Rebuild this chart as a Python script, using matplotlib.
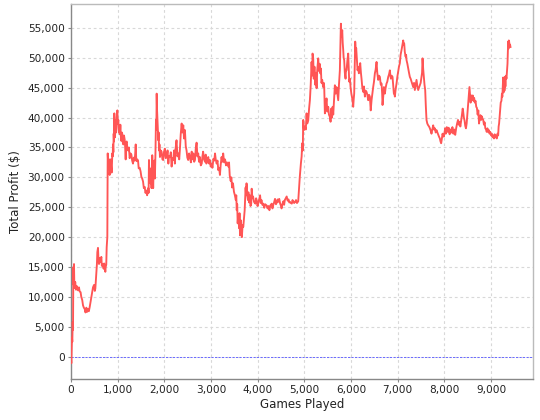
import matplotlib
matplotlib.use("Agg")
import matplotlib.pyplot as plt
from matplotlib.ticker import FuncFormatter, MultipleLocator

games = [
    0, 7, 15, 21, 28, 36, 43, 50, 57, 64, 72, 79, 90, 107, 125, 150, 170, 186, 205, 220,
    240, 257, 275, 293, 310, 329, 345, 364, 382, 400, 420, 436, 455, 471, 493, 510, 521, 543, 555, 564,
    578, 590, 600, 615, 628, 650, 660, 671, 690, 700, 710, 721, 735, 743, 755, 764, 778, 786, 795, 807,
    817, 828, 840, 850, 860, 871, 885, 893, 900, 907, 914, 921, 928, 936, 943, 950, 957, 964, 971, 980,
    993, 1003, 1014, 1025, 1036, 1047, 1057, 1068, 1078, 1090, 1100, 1110, 1121, 1135, 1150, 1160, 1171, 1182, 1193, 1207,
    1221, 1240, 1257, 1275, 1293, 1310, 1328, 1345, 1364, 1375, 1386, 1397, 1407, 1420, 1436, 1450, 1471, 1490, 1507, 1525,
    1543, 1560, 1578, 1595, 1614, 1630, 1645, 1655, 1662, 1670, 1680, 1690, 1700, 1712, 1725, 1740, 1750, 1760, 1772, 1785,
    1797, 1810, 1820, 1828, 1835, 1842, 1850, 1860, 1870, 1878, 1885, 1895, 1905, 1920, 1940, 1958, 1975, 1990, 2010, 2030,
    2050, 2068, 2085, 2100, 2120, 2138, 2155, 2172, 2190, 2208, 2225, 2240, 2260, 2280, 2300, 2318, 2335, 2350, 2370, 2385,
    2405, 2420, 2440, 2458, 2475, 2492, 2510, 2530, 2550, 2568, 2585, 2600, 2620, 2638, 2655, 2672, 2690, 2708, 2725, 2742,
    2760, 2780, 2800, 2815, 2830, 2850, 2870, 2885, 2900, 2920, 2940, 2958, 2975, 2992, 3010, 3030, 3050, 3068, 3085, 3100,
    3120, 3138, 3155, 3172, 3190, 3205, 3225, 3240, 3260, 3280, 3300, 3320, 3340, 3370, 3385, 3400, 3420, 3435, 3450, 3470,
    3490, 3510, 3530, 3540, 3550, 3560, 3570, 3580, 3590, 3600, 3610, 3620, 3630, 3640, 3650, 3660, 3675, 3690, 3705, 3720,
    3730, 3740, 3750, 3760, 3775, 3790, 3800, 3815, 3830, 3845, 3860, 3870, 3885, 3900, 3920, 3950, 3965, 3980, 3995, 4010,
    4030, 4050, 4065, 4080, 4100, 4120, 4140, 4160, 4190, 4210, 4230, 4250, 4270, 4300, 4315, 4330, 4350, 4370, 4390, 4410,
    4425, 4440, 4460, 4480, 4495, 4510, 4530, 4550, 4565, 4580, 4600, 4620, 4640, 4660, 4675, 4690, 4710, 4730, 4745, 4760,
    4780, 4800, 4820, 4840, 4867, 4882, 4900, 4924, 4940, 4953, 4965, 4974, 4990, 5010, 5030, 5046, 5060, 5081, 5100, 5117,
    5135, 5153, 5165, 5174, 5188, 5200, 5215, 5230, 5245, 5260, 5275, 5296, 5310, 5325, 5340, 5353, 5365, 5381, 5400, 5415,
    5424, 5438, 5455, 5474, 5490, 5510, 5525, 5545, 5560, 5575, 5590, 5605, 5617, 5635, 5652, 5670, 5688, 5705, 5724, 5740,
    5759, 5770, 5781, 5795, 5810, 5820, 5831, 5840, 5852, 5865, 5881, 5890, 5902, 5920, 5938, 5950, 5959, 5975, 5988, 6005,
    6024, 6035, 6045, 6055, 6066, 6078, 6088, 6100, 6109, 6125, 6138, 6152, 6166, 6180, 6195, 6210, 6223, 6240, 6259, 6275,
    6295, 6310, 6330, 6348, 6366, 6385, 6402, 6420, 6438, 6455, 6473, 6490, 6509, 6525, 6545, 6560, 6580, 6598, 6616, 6635,
    6652, 6665, 6673, 6688, 6702, 6712, 6723, 6740, 6759, 6775, 6795, 6812, 6830, 6842, 6852, 6870, 6887, 6900, 6916, 6925,
    6937, 6955, 6973, 6990, 7009, 7025, 7044, 7060, 7080, 7095, 7116, 7125, 7137, 7150, 7166, 7178, 7187, 7205, 7223, 7240,
    7258, 7275, 7294, 7312, 7330, 7348, 7365, 7383, 7401, 7420, 7437, 7455, 7473, 7490, 7508, 7520, 7530, 7545, 7558, 7572,
    7587, 7600, 7615, 7632, 7651, 7670, 7687, 7705, 7722, 7740, 7758, 7776, 7794, 7812, 7829, 7848, 7865, 7883, 7901, 7915,
    7929, 7945, 7958, 7972, 7986, 8000, 8015, 8030, 8050, 8070, 8090, 8110, 8130, 8150, 8170, 8190, 8210, 8230, 8250, 8270,
    8290, 8305, 8320, 8340, 8360, 8375, 8390, 8400, 8415, 8430, 8445, 8460, 8475, 8490, 8505, 8520, 8535, 8545, 8560, 8575,
    8590, 8605, 8620, 8635, 8650, 8665, 8680, 8695, 8710, 8725, 8740, 8755, 8770, 8785, 8800, 8815, 8830, 8845, 8860, 8875,
    8890, 8905, 8920, 8935, 8950, 8965, 8980, 9000, 9015, 9030, 9045, 9060, 9075, 9090, 9105, 9120, 9135, 9150, 9160, 9170,
    9185, 9195, 9205, 9220, 9230, 9240, 9250, 9257, 9265, 9275, 9285, 9295, 9305, 9315, 9328, 9340, 9350, 9358, 9364, 9370,
    9378, 9385, 9395, 9405, 9414,
]

profit = [
    0, -1100, 1500, 3200, 2500, 5800, 4500, 15000, 12000, 15500, 11500, 11600, 12500, 11200, 11800, 11100, 11600, 10900, 10800, 10000,
    9500, 8600, 8200, 8000, 7400, 8200, 7500, 8000, 7600, 8300, 9200, 10000, 10800, 11600, 12000, 11000, 11400, 14000, 15500, 17500,
    18200, 16000, 15500, 16500, 15800, 16700, 15200, 15500, 15000, 14700, 15600, 15200, 14200, 15000, 15400, 18300, 20000, 34000, 32500, 31800,
    33000, 30400, 31500, 33000, 31800, 30800, 34000, 33500, 35500, 34200, 37300, 36000, 40700, 38000, 36700, 38500, 39600, 37500, 38200, 40000,
    41200, 39000, 39600, 37500, 38000, 37200, 38800, 36800, 36100, 37500, 37200, 35800, 35500, 37000, 36300, 35000, 33000, 35800, 36000, 34800,
    34500, 35000, 33200, 34000, 33800, 32800, 32300, 33300, 32800, 34000, 35500, 33000, 32700, 33000, 32800, 31500, 31600, 31000, 30100, 29800,
    29300, 28200, 28400, 27400, 27800, 27000, 27600, 28200, 27400, 32900, 30000, 31200, 29000, 31500, 28200, 33700, 31800, 28200, 32000, 32800,
    29800, 34500, 39600, 38000, 44000, 41500, 40000, 38500, 36200, 37500, 34500, 35500, 33400, 34500, 34300, 33000, 32900, 34200, 34800, 33200,
    33400, 34500, 32300, 33500, 33400, 34200, 31800, 33200, 32900, 34500, 32300, 34800, 36200, 33500, 34000, 33000, 35000, 37200, 39000, 37500,
    38700, 36500, 37900, 35200, 34500, 33300, 32900, 34000, 33400, 32500, 34300, 33000, 34000, 32600, 32900, 34800, 35800, 33500, 34000, 32600,
    33400, 32000, 32300, 33500, 34300, 33000, 32600, 33800, 32300, 32800, 33400, 32300, 32900, 31800, 32300, 31600, 33100, 32800, 34000, 33000,
    32300, 32800, 31200, 31600, 30400, 32000, 33400, 32600, 34000, 32500, 33000, 32000, 32500, 31800, 32500, 30300, 29400, 30000, 28300, 29000,
    27600, 27000, 26200, 27000, 24500, 25500, 22300, 23500, 23500, 21500, 24000, 20300, 22500, 22800, 21000, 20000, 22000, 21700, 23000, 24500,
    26500, 28300, 27000, 29000, 27200, 26200, 27500, 25800, 27000, 25200, 25600, 28100, 26500, 26800, 25900, 25600, 26500, 26100, 25200, 25600,
    26300, 27000, 25700, 26200, 25400, 25600, 24900, 25500, 25300, 24800, 25200, 24500, 25300, 25600, 24800, 25300, 25800, 26400, 25500, 25800,
    26300, 25900, 26400, 25600, 25300, 24800, 25600, 26000, 25400, 26200, 26500, 26800, 26100, 26300, 25800, 25900, 25700, 25600, 26200, 25900,
    25700, 25900, 26200, 25700, 26000, 27900, 30000, 32300, 33500, 35700, 34500, 39600, 37900, 38500, 38000, 40700, 39000, 39500, 41500, 42900,
    45500, 49300, 47000, 50700, 49900, 46500, 48500, 45500, 47500, 44900, 48000, 49900, 47800, 49000, 47400, 48200, 45800, 46300, 45100, 45800,
    45100, 40700, 42000, 43200, 41000, 41800, 40500, 40100, 39300, 41500, 40000, 41800, 40500, 43000, 45400, 44000, 45100, 44000, 42900, 45500,
    47900, 51500, 55700, 53500, 54600, 52500, 51300, 50000, 49600, 47500, 46500, 48000, 47900, 49500, 50700, 48000, 46000, 46500, 45100, 44000,
    43200, 42500, 41800, 43000, 44000, 48500, 52700, 51000, 51600, 49500, 47900, 48500, 47400, 48000, 49100, 47500, 46500, 45000, 44300, 45200,
    43500, 44500, 44300, 43800, 42900, 43800, 43500, 41200, 42900, 44000, 45100, 46000, 47400, 48000, 49300, 47500, 46300, 47000, 46800, 45500,
    45700, 44000, 42100, 43500, 45100, 44600, 44000, 45000, 45700, 46000, 46800, 47200, 47900, 47000, 46500, 47000, 46800, 45500, 44000, 44200,
    43500, 44800, 45700, 46800, 47700, 48500, 49100, 50500, 51300, 52000, 52900, 52200, 52400, 51000, 50200, 50500, 49600, 49000, 48200, 47500,
    46800, 46500, 46000, 45500, 45100, 45800, 44600, 45500, 46300, 45200, 44600, 45000, 45400, 45800, 46800, 47500, 49900, 48000, 46800, 45500,
    44600, 42000, 39600, 39000, 38700, 38500, 38200, 37800, 37300, 38000, 38700, 38000, 38200, 37500, 37900, 37500, 37100, 36800, 36500, 36000,
    35700, 36500, 37300, 37000, 36800, 37500, 38200, 37300, 38400, 37600, 38300, 37200, 38000, 37500, 38400, 37300, 38000, 37100, 38200, 39000,
    39600, 38800, 39300, 38500, 39600, 40500, 41500, 41000, 40000, 39500, 38600, 38200, 39000, 40500, 42000, 43500, 45100, 44000, 42500, 43700,
    43000, 43700, 42800, 43300, 42500, 42800, 41800, 41600, 40500, 41200, 39000, 39800, 40400, 39600, 40200, 39800, 39600, 38800, 39200, 38200,
    38000, 37600, 38200, 37600, 37900, 37300, 37600, 37000, 37300, 36700, 37000, 36500, 37200, 36700, 36900, 36500, 37300, 37000, 38500, 39000,
    40500, 41500, 42500, 42800, 44000, 43500, 45500, 46700, 44200, 46000, 44500, 46800, 45200, 47000, 46500, 48000, 49000, 51000, 52700, 51500,
    52900, 52700, 52000, 52200, 51800,
]

fig = plt.figure(figsize=(5.4, 4.2), dpi=100)
ax = fig.add_axes([0.1315, 0.0976, 0.855, 0.892])

ax.plot(games, profit, color="#FF5555", linewidth=1.35, zorder=3)
ax.axhline(0, color="#6a6aff", linewidth=0.7, linestyle=(0, (2.2, 1.4)), zorder=2)

ax.set_xlim(0, 9890)
ax.set_ylim(-3730, 58930)
ax.xaxis.set_major_locator(MultipleLocator(1000))
ax.yaxis.set_major_locator(MultipleLocator(5000))
fmt = FuncFormatter(lambda v, p: f"{int(round(v)):,}")
ax.xaxis.set_major_formatter(fmt)
ax.yaxis.set_major_formatter(fmt)

ax.grid(True, color="#d8d8d8", linestyle=(0, (2.5, 2.5)), linewidth=0.8)
ax.set_axisbelow(True)

for side in ["left", "bottom"]:
    ax.spines[side].set_color("#888888")
    ax.spines[side].set_linewidth(1.0)
for side in ["top", "right"]:
    ax.spines[side].set_color("#bbbbbb")
    ax.spines[side].set_linewidth(1.0)

ax.tick_params(axis="both", colors="#888888", labelcolor="#222222", labelsize=7.6,
               length=2.5, width=0.8, direction="out", pad=2)

ax.set_xlabel("Games Played", fontsize=8.5, color="#222222", labelpad=2)
ax.set_ylabel("Total Profit ($)", fontsize=8.5, color="#222222", labelpad=4)

fig.savefig("out.png", dpi=100, facecolor="white")
